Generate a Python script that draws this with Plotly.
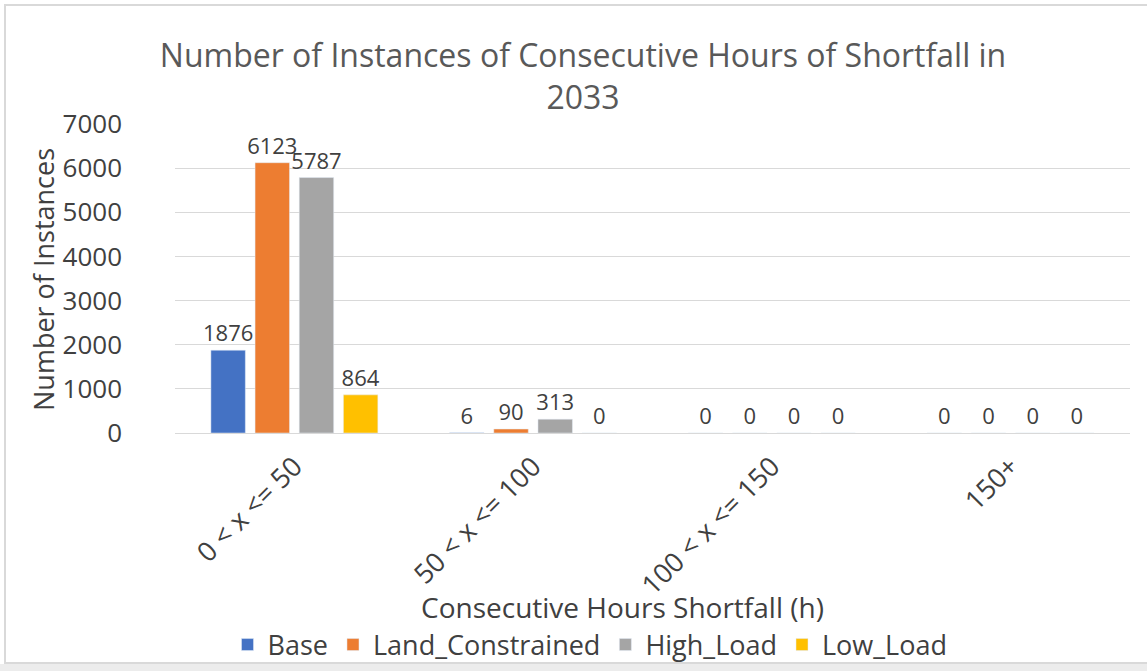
import plotly.graph_objects as go

categories = ["0 < x <= 50", "50 < x <= 100", "100 < x <= 150", "150+"]
series_names = ["Base", "Land_Constrained", "High_Load", "Low_Load"]
base = [1876, 6, 0, 0]
land_constrained = [6123, 90, 0, 0]
high_load = [5787, 313, 0, 0]
low_load = [864, 0, 0, 0]
y_ticks = [0, 1000, 2000, 3000, 4000, 5000, 6000, 7000]

colors = ["#4472C4", "#ED7D31", "#A5A5A5", "#FFC000"]
values = [base, land_constrained, high_load, low_load]

FONT = "Open Sans"
TXT = "#404040"

W, H = 1147, 671
L, R, T, B = 175, 17, 124, 238
PW, PH = W - L - R, H - T - B


def px_x(x):
    return (x - L) / PW


def px_y(y):
    return (H - B - y) / PH


fig = go.Figure()
for name, vals, col in zip(series_names, values, colors):
    fig.add_trace(go.Bar(
        x=categories, y=vals, name=name, marker_color=col,
        text=[str(v) for v in vals], textposition="outside",
        constraintext="none",
        textfont=dict(family=FONT, size=22, color=TXT),
        cliponaxis=False,
    ))

fig.update_layout(
    width=W, height=H,
    paper_bgcolor="white", plot_bgcolor="white",
    margin=dict(l=L, r=R, t=T, b=B, autoexpand=False),
    barmode="group", bargap=0.26, bargroupgap=0.22,
    title=dict(
        text="Number of Instances of Consecutive Hours of Shortfall in<br>2033",
        x=583 / W, xanchor="center", y=1 - 67 / H, yanchor="middle",
        font=dict(family=FONT, size=32, color="#595959"),
    ),
    showlegend=True,
    legend=dict(
        orientation="h", x=px_x(590), xanchor="center", y=px_y(645), yanchor="middle",
        font=dict(family=FONT, size=27, color=TXT),
        bgcolor="rgba(0,0,0,0)",
        itemwidth=30, traceorder="normal",
    ),
)

fig.update_xaxes(
    type="category", automargin=False,
    tickmode="array", tickvals=categories,
    ticktext=[c.replace("<", "&lt;") for c in categories],
    tickangle=-45,
    tickfont=dict(family=FONT, size=27, color=TXT),
    showgrid=False, showline=True, linecolor="#d9d9d9", linewidth=1,
    ticks="", ticklabelstandoff=6,
)
fig.update_yaxes(
    range=[0, 7000], tickmode="array", tickvals=y_ticks, automargin=False,
    tickfont=dict(family=FONT, size=26, color=TXT),
    showgrid=True, gridcolor="#d9d9d9", gridwidth=1,
    zeroline=False, showline=False, ticks="",
    ticklabelstandoff=52,
)

fig.add_annotation(
    text="Consecutive Hours Shortfall (h)", xref="paper", yref="paper",
    x=px_x(622), y=px_y(607), showarrow=False, xanchor="center", yanchor="middle",
    font=dict(family=FONT, size=28, color=TXT),
)
fig.add_annotation(
    text="Number of Instances", xref="paper", yref="paper",
    x=px_x(43), y=px_y(280), showarrow=False, textangle=-90,
    xanchor="center", yanchor="middle",
    font=dict(family=FONT, size=27, color=TXT),
)

# outer chart frame (screenshot border)
fig.add_shape(type="rect", xref="paper", yref="paper", layer="below",
              x0=px_x(5), x1=px_x(1160), y0=px_y(663), y1=px_y(5),
              line=dict(color="#d9d9d9", width=2), fillcolor="rgba(0,0,0,0)")
fig.add_shape(type="rect", xref="paper", yref="paper", layer="below",
              x0=px_x(0), x1=px_x(1160), y0=px_y(680), y1=px_y(664),
              line=dict(width=0), fillcolor="#ececec")

fig.write_html("out.html", config={"displayModeBar": False},
               post_script="document.body.style.margin='0';document.body.style.padding='0';")
